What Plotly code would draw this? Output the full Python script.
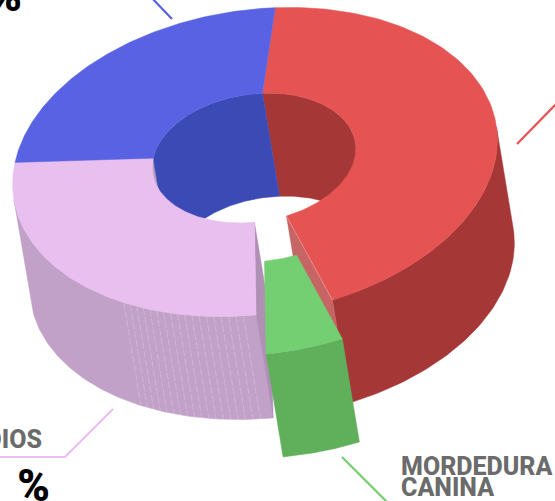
import numpy as np
import plotly.graph_objects as go

# Data
categories = ["Red slice", "MORDEDURA CANINA", "DIOS", "Blue slice"]
values = [43.5, 5.1, 27.3, 24.1]
top_colors = ["#E65353", "#74CF72", "#E8BFEF", "#5A62E4"]
wall_colors = ["#A63737", "#5FAF5B", "#C2A1C8", "#3C4AB5"]
inner_colors = ["#A63737", "#5FAF5B", "#B9A0BF", "#3C4AB5"]
end_colors = ["#C76464", "#5FAF5B", "#B190B6", "#3C4AB5"]
exploded = [False, True, False, False]

# Projection of the tilted ring
START = 280.1
OUT_C = np.array([255.0, 162.0])
IN_C = np.array([254.0, 158.0])
A, B, TILT, K = 244.0, 152.0, np.radians(-8.5), 0.42
DEPTH = np.array([17.0, 103.0])
BURST = np.array([10.0, 39.0])


def rim(deg, inner=False):
    t = np.radians(np.atleast_1d(deg))
    u, v = A * np.cos(t), B * np.sin(t)
    p = np.c_[u * np.cos(TILT) - v * np.sin(TILT), u * np.sin(TILT) + v * np.cos(TILT)]
    return IN_C + K * p if inner else OUT_C + p


def side(deg):
    tang = rim(deg + 0.01) - rim(deg - 0.01)
    return tang[:, 0] * DEPTH[1] - tang[:, 1] * DEPTH[0]


def near(deg):
    """Part of an arc whose outer wall faces the viewer."""
    return deg[side(deg) < 0]


def far(deg):
    """Part of an arc whose inner wall faces the viewer."""
    return deg[side(deg) > 0]


fig = go.Figure()


def poly(pts, color):
    pts = np.vstack([pts, pts[:1]])
    fig.add_trace(go.Scatter(x=pts[:, 0], y=pts[:, 1], mode="lines", fill="toself",
                             fillcolor=color, line=dict(color=color, width=0.5),
                             hoverinfo="skip", showlegend=False))


def line(pts, color, width=2.2, dash=None):
    pts = np.array(pts, dtype=float)
    fig.add_trace(go.Scatter(x=pts[:, 0], y=pts[:, 1], mode="lines",
                             line=dict(color=color, width=width, dash=dash),
                             hoverinfo="skip", showlegend=False))


def label(x, y, text, size, color, pos, family="Roboto", weight=700):
    fig.add_trace(go.Scatter(x=[x], y=[y], mode="text", text=[text], textposition=pos,
                             textfont=dict(size=size, color=color, family=family, weight=weight),
                             hoverinfo="skip", showlegend=False))


edges = START + np.cumsum([0] + values) * 3.6
spans = [np.linspace(edges[i], edges[i + 1], 120) for i in range(len(values))]

# inner walls (the far side of the hole)
for i in [2, 0, 3]:
    d = far(spans[i])
    if len(d) > 1:
        a = rim(d, True)
        poly(np.vstack([a, (a + DEPTH)[::-1]]), inner_colors[i])
# outer walls (the near side)
for i in [0, 2]:
    d = near(spans[i])
    a = rim(d)
    poly(np.vstack([a, (a + DEPTH)[::-1]]), wall_colors[i])
# seam lines on the pink wall
for d in np.linspace(edges[2] + 3, edges[2] + 33, 18):
    p = rim(d)[0]
    line([p, p + DEPTH], "rgba(255,255,255,0.3)", 0.7, "7px,2px")
# end faces beside the gap
for i, d in [(0, edges[1]), (2, edges[2])]:
    o, n = rim(d)[0], rim(d, True)[0]
    poly(np.array([n, o, o + DEPTH, n + DEPTH]), end_colors[i])
# top faces
for i in [0, 2, 3]:
    poly(np.vstack([rim(spans[i]), rim(spans[i], True)[::-1]]), top_colors[i])
line([rim(edges[1], True)[0], rim(edges[1])[0]], "rgba(255,255,255,0.35)", 0.8)
# exploded slice
for i, on in enumerate(exploded):
    if on:
        a = rim(spans[i]) + BURST
        n = rim(spans[i], True) + BURST
        poly(np.vstack([a, (a + DEPTH)[::-1]]), wall_colors[i])
        poly(np.vstack([a, n[::-1]]), top_colors[i])

# leader lines
line([(172, 19), (148, -6)], top_colors[3])
line([(517, 144), (560, 100)], top_colors[0])
line([(342, 457), (392, 507)], top_colors[1])
line([(113, 409), (65, 457), (-5, 457)], top_colors[2])

# labels
GREY = "#6B6B6B"
label(401, 469, "MORDEDURA", 25, GREY, "middle right", weight=800)
label(401, 490, "CANINA", 25, GREY, "middle right", weight=800)
label(42, 442, "DIOS", 25, GREY, "middle left", weight=800)
label(33.5, 490, "%", 44, "#000000", "middle center", weight=900)
label(5.5, 0, "%", 44, "#000000", "middle center", weight=900)

fig.update_layout(width=555, height=501, margin=dict(l=0, r=0, t=0, b=0),
                  paper_bgcolor="white", plot_bgcolor="white", showlegend=False,
                  xaxis=dict(range=[0, 555], visible=False, fixedrange=True),
                  yaxis=dict(range=[501, 0], visible=False, fixedrange=True))
fig.write_html("out.html", post_script="document.body.style.margin='0';document.body.style.overflow='hidden';",
               config={"displayModeBar": False})
